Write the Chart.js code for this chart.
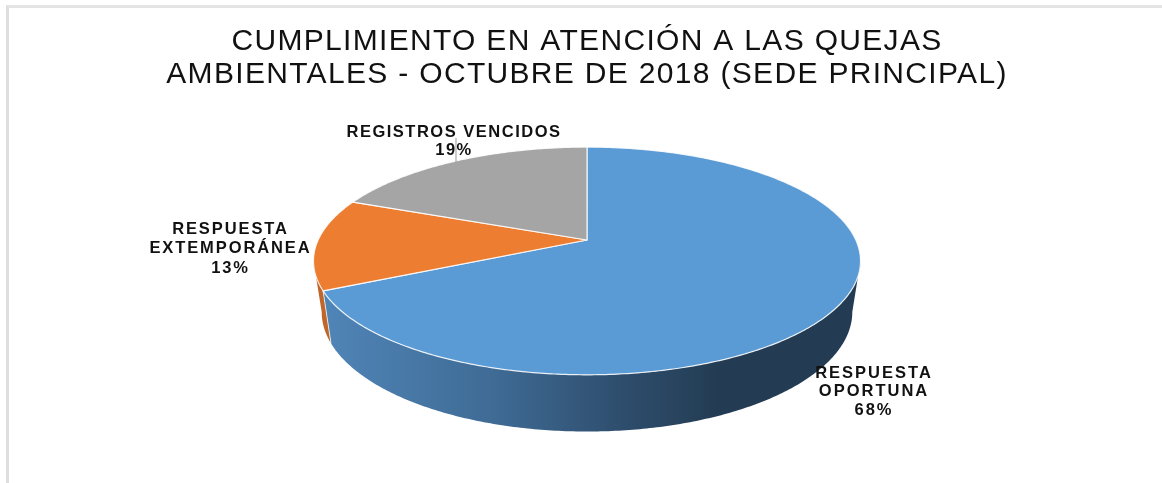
<!DOCTYPE html>
<html>
<head>
<meta charset="utf-8">
<script src="https://cdn.jsdelivr.net/npm/chart.js@4"></script>
<style>
html,body{margin:0;padding:0;background:#fff;}
#frame{position:absolute;left:6px;top:5px;width:1156px;height:478px;border-left:3px solid #dedede;border-top:3px solid #e4e4e4;box-sizing:border-box;}
canvas{position:absolute;left:0;top:0;}
</style>
</head>
<body>
<div id="frame"></div>
<canvas id="c" width="1162" height="483"></canvas>
<script>
const categories = ["RESPUESTA OPORTUNA", "RESPUESTA EXTEMPORÁNEA", "REGISTROS VENCIDOS"];
const values = [68, 13, 19];
const topColors = ["#5b9bd5", "#ed7d31", "#a5a5a5"];
const labelLines = [["RESPUESTA", "OPORTUNA"], ["RESPUESTA", "EXTEMPORÁNEA"], ["REGISTROS VENCIDOS"]];
const titleLines = ["CUMPLIMIENTO EN ATENCIÓN A LAS QUEJAS", "AMBIENTALES - OCTUBRE DE 2018 (SEDE PRINCIPAL)"];

const FONT = "'Liberation Sans', Arial, sans-serif";
const view = {sx: 2.444, sy: 1.0, k: 0.184, wallScaleX: 0.97, wallScaleY: 1.05, wallDrop: 50};
const labelSpots = [
  {x: 874, y: 373, gap: 18.5, spacing: 2.0},
  {x: 230.5, y: 229, gap: 19.5, spacing: 1.9},
  {x: 454, y: 132, gap: 18, spacing: 1.5}
];

function project(el, angle, wall) {
  const u = Math.cos(angle), v = -Math.sin(angle);
  const den = 1 + view.k * v;
  const R = el.outerRadius;
  const px = R * view.sx * u / den, py = -R * view.sy * v / den;
  if (wall) return [el.x + px * view.wallScaleX, el.y + view.wallDrop + py * view.wallScaleY];
  return [el.x + px, el.y + py];
}
function trace(ctx, el, a0, a1, wall, first) {
  const n = Math.max(2, Math.ceil(Math.abs(a1 - a0) * 90));
  for (let i = 0; i <= n; i++) {
    const p = project(el, a0 + (a1 - a0) * i / n, wall);
    if (i === 0 && first) ctx.moveTo(p[0], p[1]); else ctx.lineTo(p[0], p[1]);
  }
}
function drawWall(ctx, el, a0, a1, fill) {
  ctx.beginPath();
  trace(ctx, el, a0, a1, false, true);
  trace(ctx, el, a1, a0, true, false);
  ctx.closePath();
  ctx.fillStyle = fill;
  ctx.fill();
}

const pie3d = {
  id: "pie3d",
  beforeDraw(chart) { chart.ctx.letterSpacing = "1.32px"; },
  beforeDatasetsDraw(chart) {
    const ctx = chart.ctx;
    ctx.letterSpacing = "0px";
    const arcs = chart.getDatasetMeta(0).data;
    const blue = arcs[0], orange = arcs[1];
    const tangent = Math.asin(view.k);
    ctx.save();
    // side walls, bounded by the silhouette of the disc
    const right = blue.x + blue.outerRadius * view.sx;
    const left = blue.x - blue.outerRadius * view.sx;
    const g = ctx.createLinearGradient(left + 12, 0, right, 0);
    g.addColorStop(0, "#4f84b6");
    g.addColorStop(0.31, "#3f6b95");
    g.addColorStop(0.56, "#2e4d6c");
    g.addColorStop(0.74, "#233c53");
    g.addColorStop(1, "#233c53");
    drawWall(ctx, orange, orange.startAngle, Math.PI - tangent, "#c0662a");
    drawWall(ctx, blue, tangent, blue.endAngle, g);
    // separator between the walls
    const e1 = project(blue, blue.endAngle, false), e2 = project(blue, blue.endAngle, true);
    ctx.beginPath(); ctx.moveTo(e1[0], e1[1]); ctx.lineTo(e2[0], e2[1]);
    ctx.strokeStyle = "rgba(255,255,255,0.75)"; ctx.lineWidth = 1; ctx.stroke();
    // top faces
    arcs.forEach(el => {
      ctx.beginPath();
      ctx.moveTo(el.x, el.y);
      trace(ctx, el, el.startAngle, el.endAngle, false, false);
      ctx.closePath();
      ctx.fillStyle = el.options.backgroundColor;
      ctx.fill();
      ctx.strokeStyle = el.options.borderColor;
      ctx.lineWidth = el.options.borderWidth;
      ctx.lineJoin = "round";
      ctx.stroke();
    });
    // leader for the top label
    ctx.beginPath(); ctx.moveTo(456, 138); ctx.lineTo(456, 162);
    ctx.strokeStyle = "#a9a9a9"; ctx.lineWidth = 1.2; ctx.stroke();
    // data labels
    const total = values.reduce((s, x) => s + x, 0);
    ctx.fillStyle = "#111";
    ctx.font = "bold 16.5px " + FONT;
    ctx.textAlign = "center";
    ctx.textBaseline = "middle";
    categories.forEach((c, i) => {
      const s = labelSpots[i];
      ctx.letterSpacing = s.spacing + "px";
      const lines = labelLines[i].concat([Math.round(values[i] / total * 100) + "%"]);
      lines.forEach((t, j) => ctx.fillText(t, s.x, s.y + j * s.gap));
    });
    ctx.restore();
    return false;
  }
};

new Chart(document.getElementById("c"), {
  type: "pie",
  data: {
    labels: categories,
    datasets: [{ data: values, backgroundColor: topColors, borderColor: "rgba(255,255,255,0.85)", borderWidth: 1.2, radius: 110 }]
  },
  options: {
    responsive: false,
    animation: false,
    layout: { padding: { left: 12, right: 0, top: 0, bottom: 133 } },
    plugins: {
      legend: { display: false },
      tooltip: { enabled: false },
      title: {
        display: true,
        text: titleLines,
        color: "#111",
        font: { family: FONT, size: 30, weight: "normal", lineHeight: 1.1 },
        padding: { top: 25, bottom: 39 }
      }
    }
  },
  plugins: [pie3d]
});
</script>
</body>
</html>
